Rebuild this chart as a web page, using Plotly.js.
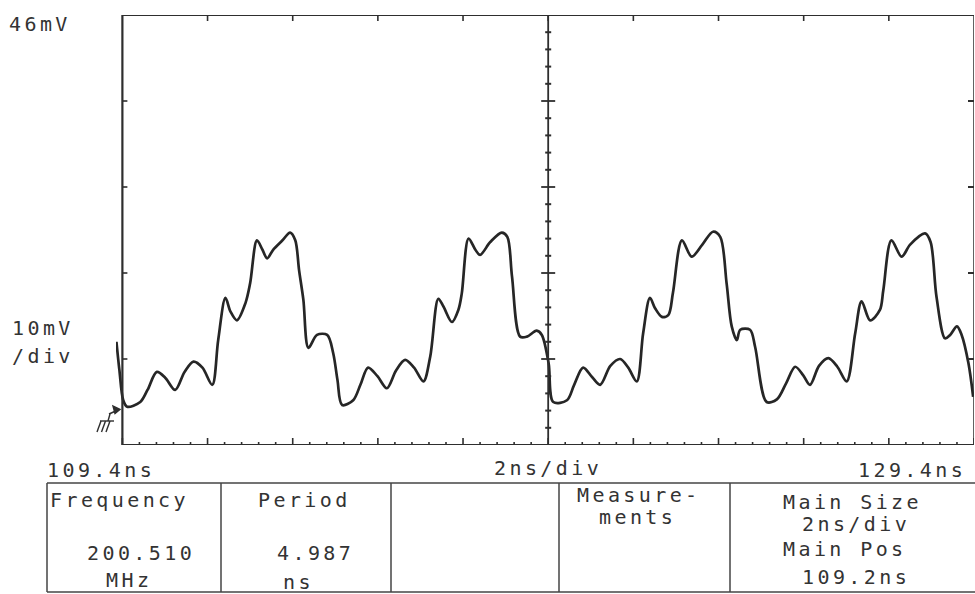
<!DOCTYPE html>
<html><head><meta charset="utf-8">
<script src="https://cdn.plot.ly/plotly-3.0.1.min.js"></script>
<style>
html,body{margin:0;padding:0;background:#fff;}
#chart{width:975px;height:594px;}
.annotation-text{letter-spacing:3.4px;}
</style>
</head><body><div id="chart"></div>
<script>
// Waveform samples: time (ns) and voltage (mV)
const timeNs = [109.26,109.33,109.42,109.51,109.82,109.99,110.21,110.41,110.64,110.86,111.07,111.28,111.51,111.65,111.82,111.94,112.09,112.29,112.40,112.56,112.69,112.80,112.94,113.16,113.34,113.46,113.55,113.65,113.77,113.97,114.21,114.35,114.45,114.56,114.82,114.99,115.17,115.39,115.61,115.83,116.04,116.25,116.47,116.63,116.82,116.94,117.14,117.29,117.37,117.53,117.69,117.80,118.04,118.31,118.44,118.55,118.74,118.90,119.13,119.25,119.41,119.52,119.84,120.01,120.22,120.43,120.62,120.86,121.09,121.28,121.48,121.63,121.79,121.91,122.07,122.22,122.33,122.54,122.77,123.02,123.27,123.44,123.59,123.71,123.83,123.91,124.14,124.26,124.53,124.77,124.99,125.20,125.39,125.55,125.76,125.98,126.19,126.41,126.61,126.76,126.96,127.19,127.27,127.46,127.70,127.90,128.25,128.38,128.52,128.72,128.84,129.00,129.11,129.27,129.38];
const voltageMv = [8.0,4.7,1.2,0.45,1.0,2.4,4.5,3.8,2.4,4.5,5.7,5.0,3.0,8.2,13.1,11.5,10.5,12.5,14.8,19.8,18.7,17.7,18.7,19.8,20.7,19.8,16.3,12.9,7.3,8.8,8.8,6.7,3.6,0.65,1.2,3.0,5.0,4.0,2.6,4.7,5.9,5.0,3.4,6.3,13.0,12.1,10.3,11.7,13.6,20.0,18.7,18.1,19.6,20.7,20.2,15.6,8.6,8.6,9.3,8.8,5.5,1.0,1.2,3.0,5.0,3.9,3.0,5.2,6.0,5.0,3.4,9.0,13.1,11.9,10.9,11.1,13.7,19.8,17.9,19.3,20.8,20.2,14.8,9.8,8.2,9.4,9.4,7.4,1.0,1.3,3.2,5.1,4.1,3.0,5.2,6.1,5.1,3.4,9.0,12.7,10.5,11.7,14.0,19.8,17.9,19.3,20.6,19.6,13.2,8.4,8.8,9.8,8.8,5.5,1.6];

// Screen settings
const timeStart = 109.4, timeEnd = 129.4, timePerDiv = 2;
const voltTop = 46, voltPerDiv = 10, voltBottom = -4;
const topLabel = '46mV';
const scaleLabel = ['10mV', '/div'];
const timeLabels = ['109.4ns', '2ns/div', '129.4ns'];

// Measurement table
const measureNames = ['Frequency', 'Period'];
const measureValues = ['200.510', '4.987'];
const measureUnits = ['MHz', 'ns'];
const measureTitle = ['Measure-', 'ments'];
const mainInfo = ['Main Size', '2ns/div', 'Main Pos', '109.2ns'];

const W = 975, H = 594, ML = 116, MR = 1, MT = 15, MB = 149;
const PW = W - ML - MR, PH = H - MT - MB;
const X = px => (px - ML) / PW;
const Y = py => (H - MB - py) / PH;
const ink = '#2e2e2e';
const font = {family: 'DejaVu Sans Mono, monospace', size: 20, color: '#333'};

const shapes = [];
function seg(x0, y0, x1, y1, w, c) {
  shapes.push({type: 'line', xref: 'x', yref: 'y', x0, y0, x1, y1, line: {color: c || ink, width: w || 1.5}});
}
// frame
seg(timeStart, voltBottom, timeStart, voltTop, 2.2);
seg(timeStart, voltTop, timeEnd, voltTop, 2);
seg(timeEnd, voltBottom, timeEnd, voltTop, 1.5);
seg(timeStart, voltBottom, timeEnd, voltBottom, 1.8);
const tMid = (timeStart + timeEnd) / 2;
seg(tMid, voltBottom, tMid, voltTop, 1.8);

function pxTick(xa, ya, x0, x1, y0, y1, w) {
  shapes.push({type: 'line', xref: 'x', yref: 'y', xsizemode: 'pixel', ysizemode: 'pixel',
    xanchor: xa, yanchor: ya, x0, x1, y0, y1, line: {color: ink, width: w || 1.5}});
}
// bottom axis minor/major ticks
for (let k = 0; k <= 50; k++) {
  const t = timeStart + k * timePerDiv / 5;
  const major = k % 5 === 0;
  pxTick(t, voltBottom, 0, 0, major ? -6 : -3, major ? 7 : 3, major ? 1.6 : 1.6);
}
// top ticks at divisions
for (let k = 1; k < 10; k++) {
  const t = timeStart + k * timePerDiv;
  pxTick(t, voltTop, 0, 0, -6, 0, 1.6);
}
// centre vertical ticks
for (let k = 0; k <= 25; k++) {
  const v = voltBottom + k * voltPerDiv / 5;
  const major = k % 5 === 0;
  pxTick(tMid, v, major ? -7 : -3, major ? 7 : 3, 0, 0, major ? 1.8 : 2);
}
// side ticks at divisions
for (let k = 1; k < 5; k++) {
  const v = voltBottom + k * voltPerDiv;
  pxTick(timeStart, v, 0, 5, 0, 0, 1.6);
  pxTick(timeEnd, v, -6, 0, 0, 0, 2);
}
// ground marker
function pth(d, fill) {
  shapes.push({type: 'path', xref: 'paper', yref: 'paper', path: d,
    line: {color: ink, width: 1.4}, fillcolor: fill || 'rgba(0,0,0,0)'});
}
const P = (x, y) => X(x) + ',' + Y(y);
pth('M' + P(109, 414) + 'L' + P(118, 410));
pth('M' + P(120, 409.5) + 'L' + P(113, 406) + 'L' + P(115, 413.5) + 'Z', ink);
pth('M' + P(110, 414) + 'L' + P(108, 421));
pth('M' + P(100, 421) + 'L' + P(114, 421));
pth('M' + P(101, 421) + 'L' + P(97, 432));
pth('M' + P(105.5, 421) + 'L' + P(101.5, 432));
pth('M' + P(110, 421) + 'L' + P(106, 432));
// measurement table
const tl = (x0, y0, x1, y1) => shapes.push({type: 'line', xref: 'paper', yref: 'paper',
  x0: X(x0), y0: Y(y0), x1: X(x1), y1: Y(y1), line: {color: '#444', width: 1.5}});
tl(47, 483, 975, 483);
tl(47, 592, 975, 592);
tl(47, 483, 47, 592);
[221, 391, 559, 730].forEach(x => tl(x, 483, x, 592));

const annotations = [];
function txt(s, px, py) {
  annotations.push({text: s, xref: 'paper', yref: 'paper', x: X(px), y: Y(py),
    xanchor: 'left', yanchor: 'middle', align: 'left', showarrow: false, font});
}
txt(topLabel, 7, 24);
txt(scaleLabel[0], 10, 328);
txt(scaleLabel[1], 10, 356);
txt(timeLabels[0], 45, 470);
txt(timeLabels[1], 492, 468);
txt(timeLabels[2], 856, 470);
txt(measureNames[0], 48, 500);
txt(measureValues[0], 85, 553);
txt(measureUnits[0], 104, 580);
txt(measureNames[1], 256, 500);
txt(measureValues[1], 275, 553);
txt(measureUnits[1], 281, 582);
txt(measureTitle[0], 575, 495);
txt(measureTitle[1], 597, 517);
txt(mainInfo[0], 781, 502);
txt(mainInfo[1], 800, 524);
txt(mainInfo[2], 781, 549);
txt(mainInfo[3], 800, 577);

const trace = {x: timeNs, y: voltageMv, type: 'scatter', mode: 'lines',
  line: {color: '#262626', width: 2.7, shape: 'spline', smoothing: 0.9}, hoverinfo: 'skip'};

const ax = {showgrid: false, zeroline: false, showticklabels: false, ticks: '', showline: false, fixedrange: true};
const layout = {
  width: W, height: H, margin: {l: ML, r: MR, t: MT, b: MB, pad: 0},
  paper_bgcolor: '#fff', plot_bgcolor: '#fff', showlegend: false,
  xaxis: Object.assign({range: [timeStart - 0.15, timeEnd]}, ax),
  yaxis: Object.assign({range: [voltBottom, voltTop]}, ax),
  shapes, annotations
};
Plotly.newPlot('chart', [trace], layout, {displayModeBar: false, staticPlot: true});
</script></body></html>
